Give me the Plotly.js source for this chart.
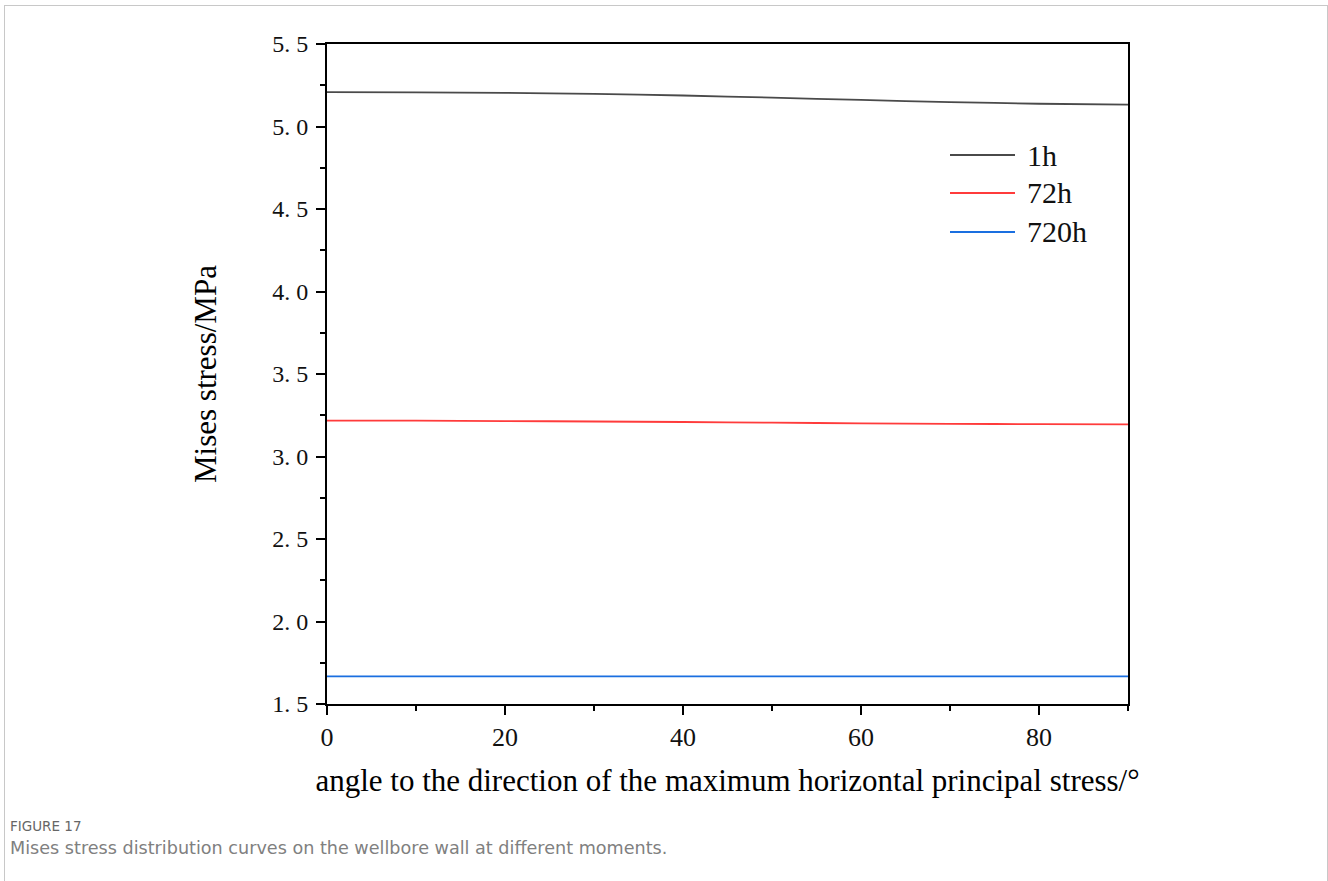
<!DOCTYPE html>
<html>
<head>
<meta charset="utf-8">
<script src="https://cdn.plot.ly/plotly-3.0.1.min.js"></script>
<style>
  html, body { margin: 0; padding: 0; background: #fff; }
  #wrap { position: relative; width: 1328px; height: 881px; }
  #chart { width: 1328px; height: 881px; }
  #frame { position: absolute; left: 4px; top: 5px; width: 1322px; height: 900px;
           border: 1px solid #c8c8c8; pointer-events: none; }
</style>
</head>
<body>
<div id="wrap">
  <div id="chart"></div>
  <div id="frame"></div>
</div>
<script>
// Angle around the wellbore wall (degrees)
const angles = [0, 10, 20, 30, 40, 50, 60, 70, 80, 90];

// Mises stress (MPa) at each moment
const stress1h   = [5.208, 5.207, 5.204, 5.198, 5.188, 5.175, 5.161, 5.148, 5.138, 5.132];
const stress72h  = [3.218, 3.217, 3.215, 3.212, 3.209, 3.205, 3.201, 3.198, 3.196, 3.195];
const stress720h = [1.668, 1.668, 1.668, 1.668, 1.668, 1.668, 1.668, 1.668, 1.668, 1.668];

const seriesNames  = ['1h', '72h', '720h'];
const seriesColors = ['#4a4a4a', '#ff3b3b', '#1a6fe0'];
const seriesValues = [stress1h, stress72h, stress720h];

const yTickVals = [1.5, 2.0, 2.5, 3.0, 3.5, 4.0, 4.5, 5.0, 5.5];
const yTickText = ['1. 5', '2. 0', '2. 5', '3. 0', '3. 5', '4. 0', '4. 5', '5. 0', '5. 5'];
const xTickVals = [0, 20, 40, 60, 80];

// Figure geometry (pixels)
const W = 1328, H = 881;
const M = { l: 327, r: 200, t: 44, b: 177 };
const PW = W - M.l - M.r, PH = H - M.t - M.b;
const px = x => (x - M.l) / PW;          // page x -> paper x
const py = y => (H - M.b - y) / PH;      // page y -> paper y

const serif = 'Liberation Serif, Times New Roman, serif';
const sans = 'DejaVu Sans, Noto Sans, sans-serif';

const traces = seriesValues.map((vals, i) => ({
  x: angles,
  y: vals,
  type: 'scatter',
  mode: 'lines',
  name: seriesNames[i],
  line: { color: seriesColors[i], width: 1.8, shape: 'spline', smoothing: 0.6 },
  showlegend: false,
  hoverinfo: 'x+y+name'
}));

// Legend drawn as short line segments with labels
const legendRows = [155, 193, 232];
const shapes = seriesNames.map((n, i) => ({
  type: 'line', xref: 'paper', yref: 'paper',
  x0: px(950), x1: px(1015), y0: py(legendRows[i]), y1: py(legendRows[i]),
  line: { color: seriesColors[i], width: 1.8 }
}));
const annotations = seriesNames.map((n, i) => ({
  text: n, xref: 'paper', yref: 'paper', showarrow: false,
  x: px(1025), y: py(legendRows[i]), xanchor: 'left', yanchor: 'middle',
  font: { family: serif, size: 30, color: '#111' }
}));

// Caption below the figure
annotations.push({
  text: 'FIGURE 17', xref: 'paper', yref: 'paper', showarrow: false,
  x: px(8), y: py(826), xanchor: 'left', yanchor: 'middle',
  font: { family: sans, size: 13.5, color: '#666666' }
});
annotations.push({
  text: 'Mises stress distribution curves on the wellbore wall at different moments.',
  xref: 'paper', yref: 'paper', showarrow: false,
  x: px(8), y: py(848), xanchor: 'left', yanchor: 'middle',
  font: { family: sans, size: 17.6, color: '#808080' }
});

const layout = {
  width: W, height: H,
  margin: M,
  paper_bgcolor: '#fff',
  plot_bgcolor: '#fff',
  showlegend: false,
  xaxis: {
    range: [0, 90],
    tickvals: xTickVals,
    ticks: 'outside', ticklen: 9, tickwidth: 2, tickcolor: '#000',
    minor: { dtick: 10, tick0: 0, ticks: 'outside', ticklen: 5, tickwidth: 2, tickcolor: '#000' },
    showline: true, linecolor: '#000', linewidth: 2, mirror: true,
    showgrid: false, zeroline: false,
    tickfont: { family: serif, size: 26, color: '#111' },
    title: {
      text: 'angle to the direction of the maximum horizontal principal stress/°',
      font: { family: serif, size: 31, color: '#000' },
      standoff: 18
    }
  },
  yaxis: {
    range: [1.5, 5.5],
    tickvals: yTickVals,
    ticktext: yTickText,
    ticks: 'outside', ticklen: 9, tickwidth: 2, tickcolor: '#000',
    minor: { dtick: 0.25, tick0: 1.5, ticks: 'outside', ticklen: 5, tickwidth: 2, tickcolor: '#000' },
    showline: true, linecolor: '#000', linewidth: 2, mirror: true,
    showgrid: false, zeroline: false,
    tickfont: { family: serif, size: 24, color: '#111' },
    ticklabelstandoff: 3,
    title: {
      text: 'Mises stress/MPa',
      font: { family: serif, size: 31, color: '#000' },
      standoff: 46
    }
  },
  shapes: shapes,
  annotations: annotations
};

Plotly.newPlot('chart', traces, layout, { displayModeBar: false });
</script>
</body>
</html>
